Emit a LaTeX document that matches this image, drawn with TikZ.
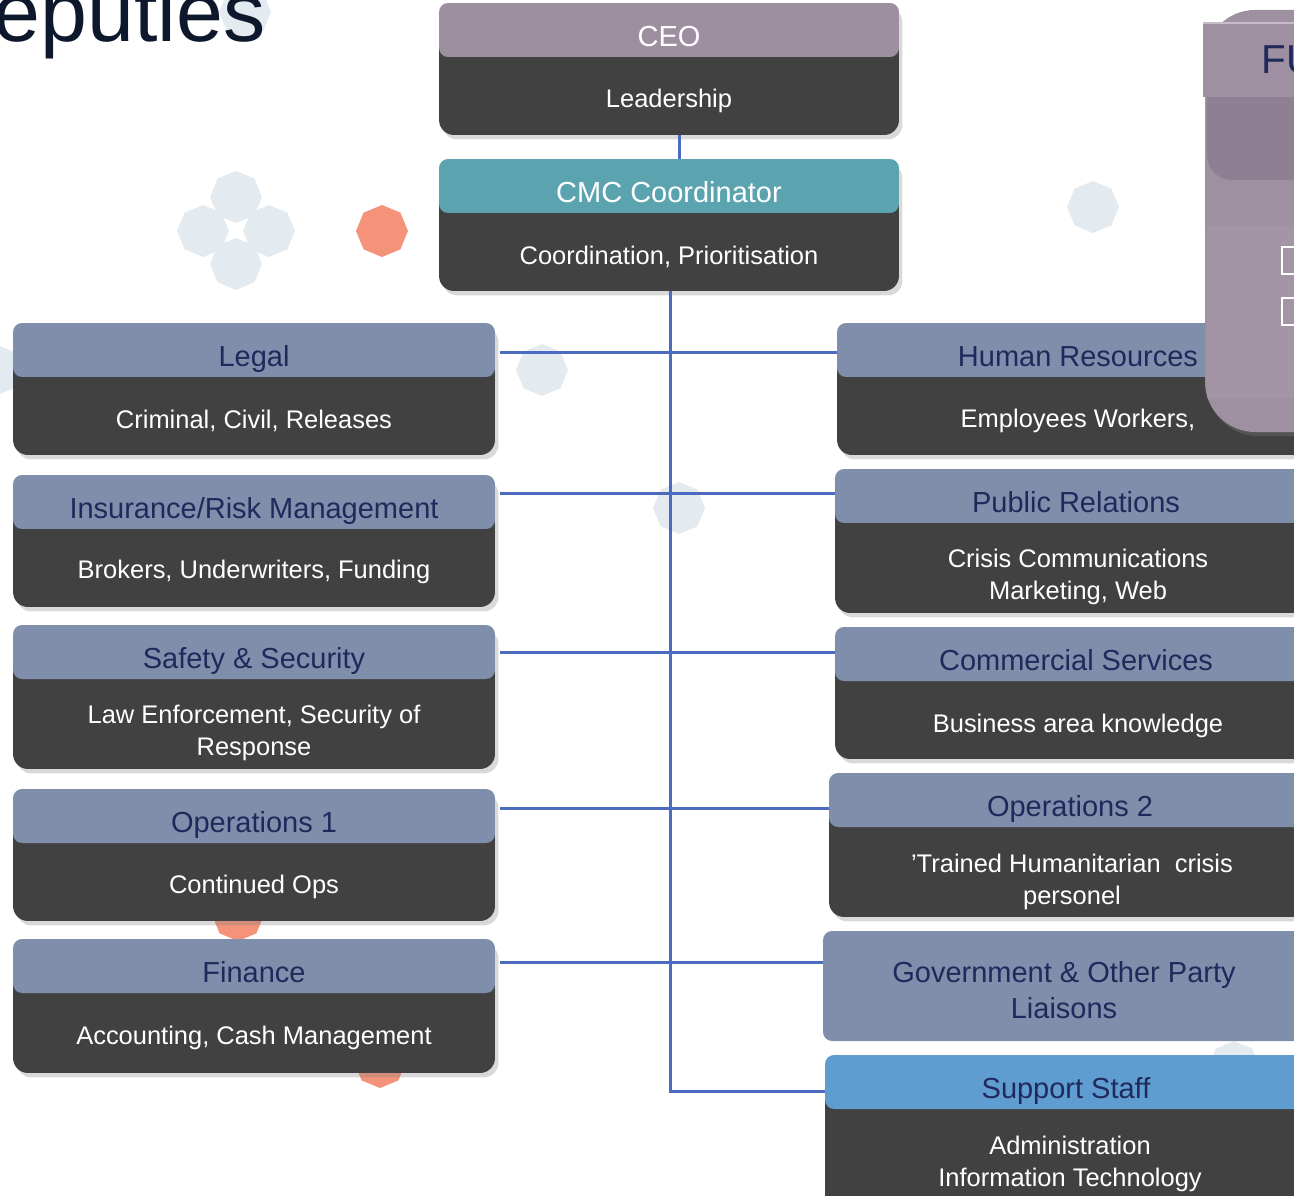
\documentclass[tikz,border=0pt]{standalone}
\usepackage{fontspec}
\setmainfont{Liberation Sans}
\usepackage{xcolor}
\usepackage{tikz}
\usetikzlibrary{positioning,calc,shapes.geometric,shadows}

\definecolor{boxdark}{RGB}{65,65,65}
\definecolor{hdslate}{RGB}{127,142,170}
\definecolor{hdnavy}{RGB}{33,41,92}
\definecolor{ceomauve}{RGB}{157,143,160}
\definecolor{cmcteal}{RGB}{91,163,175}
\definecolor{supblue}{RGB}{95,157,209}
\definecolor{linkblue}{RGB}{74,107,191}
\definecolor{decolight}{RGB}{227,235,240}
\definecolor{decoorange}{RGB}{244,147,122}
\definecolor{titlenavy}{RGB}{14,24,44}
\definecolor{panelmauve}{RGB}{158,143,161}
\definecolor{paneldark}{RGB}{143,127,146}
\definecolor{panellight}{RGB}{163,148,166}

\begin{document}
\begin{tikzpicture}[
	x=0.02cm, y=-0.02cm, % 1 don vi = 1 px, truc y huong xuong
	boxbg/.style={            % nen toi cua moi o
		fill=boxdark,
		rounded corners=0.3cm,
		minimum width=9.64cm,
		inner sep=0pt,
		drop shadow={shadow xshift=0.07cm, shadow yshift=-0.09cm, opacity=0.3}
	},
	hdband/.style={           % dai tieu de
		fill=hdslate,
		rounded corners=0.18cm,
		minimum width=9.64cm,
		minimum height=1.08cm,
		inner sep=0pt,
		text=hdnavy,
		font=\fontsize{16.5}{20.5}\selectfont,
		text height=18.6pt, text depth=0pt,
		align=center
	},
	txt/.style={              % chu trang trong o
		text=white,
		inner sep=0pt,
		yshift=-0.07cm,
		font=\fontsize{14.5}{18.2}\selectfont,
		align=center
	},
	conn/.style={             % duong noi xanh
		-, linkblue, line width=0.06cm
	},
	decobub/.style={          % hinh trang tri
		regular polygon, regular polygon sides=8, regular polygon rotate=22.5,
		minimum size=1.04cm, inner sep=0pt
	}
	]
	\useasboundingbox (0,0) rectangle (1294,1196);
	\clip (0,0) rectangle (1294,1196);

	% --- HINH TRANG TRI ---
	\foreach \px/\py/\c [count=\i] in {236/197/decolight, 203/231/decolight, 269/231/decolight,
		236/264/decolight, 382/231/decoorange, -5/370/decolight, 542/370/decolight,
		679/508/decolight, 1093/207/decolight, 245/12/decolight, 238/915/decoorange,
		380/1062/decoorange, 1234/1067/decolight} {
		\node[decobub, fill=\c] (dec\i) at (\px,\py) {};
	}

	% --- TIEU DE ---
	\node[anchor=base east, inner sep=0pt, text=titlenavy,
		font=\fontsize{48}{50}\selectfont] (title) at (266,42) {eputies};

	% --- CEO & CMC ---
	\node[boxbg, minimum width=9.2cm, minimum height=2.64cm] (ceo-bg) at (669,69) {};
	\node[hdband, fill=ceomauve, text=white, minimum width=9.2cm] (ceo) at (669,30) {CEO};
	\node[txt] (ceo-t) at (669,97) {Leadership};

	\node[boxbg, minimum width=9.2cm, minimum height=2.64cm] (cmc-bg) at (669,225) {};
	\node[hdband, fill=cmcteal, text=white, minimum width=9.2cm] (cmc) at (669,186) {CMC Coordinator};
	\node[txt] (cmc-t) at (669,253) {Coordination, Prioritisation};

	% --- COT TRAI ---
	\node[boxbg, minimum height=2.64cm] (legal-bg) at (254,389) {};
	\node[hdband] (legal) at (254,350) {Legal};
	\node[txt] (legal-t) at (254,417) {Criminal, Civil, Releases};

	\node[boxbg, minimum height=2.64cm] (ins-bg) at (254,541) {};
	\node[hdband] (ins) at (254,502) {Insurance/Risk Management};
	\node[txt] (ins-t) at (254,568) {Brokers, Underwriters, Funding};

	\node[boxbg, minimum height=2.88cm] (safe-bg) at (254,697) {};
	\node[hdband] (safe) at (254,652) {Safety \& Security};
	\node[txt] (safe-t) at (254,729) {Law Enforcement, Security of\\Response};

	\node[boxbg, minimum height=2.64cm] (ops1-bg) at (254,855) {};
	\node[hdband] (ops1) at (254,816) {Operations 1};
	\node[txt] (ops1-t) at (254,883) {Continued Ops};

	\node[boxbg, minimum height=2.68cm] (fin-bg) at (254,1006) {};
	\node[hdband] (fin) at (254,966) {Finance};
	\node[txt] (fin-t) at (254,1034) {Accounting, Cash Management};

	% --- COT PHAI ---
	\node[boxbg, minimum height=2.64cm] (hr-bg) at (1078,389) {};
	\node[hdband] (hr) at (1078,350) {Human Resources};
	\node[txt] (hr-t) at (1078,417) {Employees Workers,};

	\node[boxbg, minimum height=2.88cm] (pr-bg) at (1076,541) {};
	\node[hdband] (pr) at (1076,496) {Public Relations};
	\node[txt] (pr-t) at (1078,573) {Crisis Communications\\Marketing, Web};

	\node[boxbg, minimum height=2.64cm] (com-bg) at (1076,693) {};
	\node[hdband] (com) at (1076,654) {Commercial Services};
	\node[txt] (com-t) at (1078,722) {Business area knowledge};

	\node[boxbg, minimum height=2.88cm] (ops2-bg) at (1070,845) {};
	\node[hdband] (ops2) at (1070,800) {Operations 2};
	\node[txt] (ops2-t) at (1072,878) {’Trained Humanitarian~ crisis\\personel};

	\node[hdband, minimum height=2.2cm, text height=40.3pt, text depth=3.5pt] (gov) at (1064,986)
		{Government \& Other Party\\Liaisons};

	\node[boxbg, minimum height=3.2cm] (sup-bg) at (1066,1135) {};
	\node[hdband, fill=supblue] (sup) at (1066,1082) {Support Staff};
	\node[txt] (sup-t) at (1070,1160) {Administration\\Information Technology};

	% --- KHUNG BEN PHAI (bi cat) ---
	\fill[panelmauve, rounded corners=1cm,
		drop shadow={shadow xshift=0.05cm, shadow yshift=-0.08cm, opacity=0.3}]
		(1205,10) rectangle (1400,432);
	\fill[paneldark, rounded corners=0.5cm] (1207,60) rectangle (1400,180);
	\fill[panelmauve] (1203,23) rectangle (1400,97);
	\draw[panelmauve!60!white, line width=0.03cm] (1203,23) -- (1400,23);
	\node[anchor=base west, inner sep=0pt, text=hdnavy,
		font=\fontsize{23}{26}\selectfont] (fu) at (1261,74) {FU};
	\fill[panellight] (1207,225) rectangle (1400,398);
	\draw[white, line width=0.05cm] (1282,247) rectangle (1330,274);
	\draw[white, line width=0.05cm] (1282,298) rectangle (1330,325);

	% --- DUONG NOI ---
	\coordinate (j1) at (670,352);
	\coordinate (j2) at (670,493);
	\coordinate (j3) at (670,652);
	\coordinate (j4) at (670,808);
	\coordinate (j5) at (670,962);
	\coordinate (j6) at (670,1091);
	\draw[conn] ([xshift=0.2cm]ceo-bg.south) -- ([xshift=0.2cm]cmc.north);
	\draw[conn] (cmc-bg.south -| j1) -- (j6) -- (sup.west |- j6);
	\foreach \a/\b/\j in {legal/hr/j1, ins/pr/j2, safe/com/j3, ops1/ops2/j4, fin/gov/j5} {
		\draw[conn, shorten <=0.1cm] (\a.east |- \j) -- (\b.west |- \j);
	}
\end{tikzpicture}
\end{document}
